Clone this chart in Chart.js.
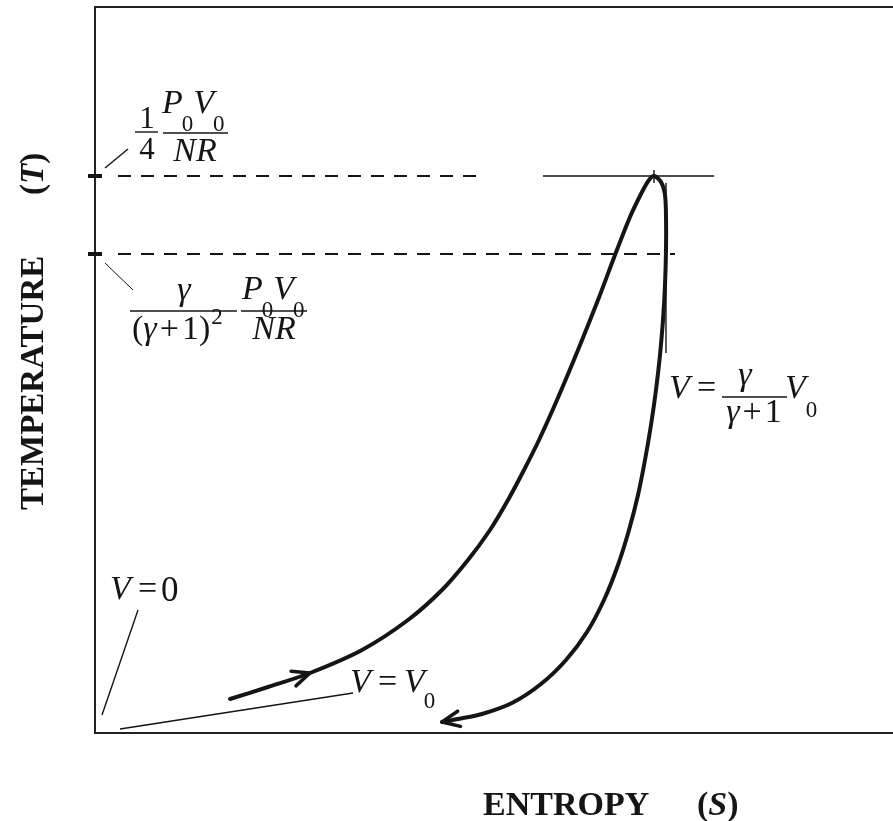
<!DOCTYPE html>
<html>
<head>
<meta charset="utf-8">
<script src="https://cdn.jsdelivr.net/npm/chart.js@4.4.1/dist/chart.umd.min.js"></script>
<style>
  html, body { margin: 0; padding: 0; background: #fff; overflow: hidden; }
  #wrap { position: relative; width: 893px; height: 821px; }
</style>
</head>
<body>
<div id="wrap"><canvas id="ts"></canvas></div>
<script>
// T-S diagram, arbitrary units (S along x, T along y)
const heatS = [1.35, 1.73, 2.15, 2.67, 3.13, 3.47, 3.73, 3.95, 4.13, 4.29, 4.44, 4.62, 4.83, 5.03, 5.20, 5.35, 5.47, 5.54, 5.59];
const heatT = [0.34, 0.46, 0.60, 0.83, 1.13, 1.43, 1.73, 2.03, 2.33, 2.63, 2.93, 3.33, 3.83, 4.33, 4.78, 5.16, 5.41, 5.53, 5.57];
const coolS = [5.66, 5.70, 5.71, 5.71, 5.70, 5.68, 5.65, 5.61, 5.56, 5.50, 5.43, 5.34, 5.23, 5.09, 4.92, 4.71, 4.46, 4.17, 3.87, 3.63, 3.47];
const coolT = [5.51, 5.38, 5.16, 4.83, 4.48, 4.13, 3.78, 3.43, 3.08, 2.73, 2.38, 2.03, 1.68, 1.33, 1.01, 0.73, 0.49, 0.30, 0.19, 0.14, 0.11];

// isochores V = V0 and V = 0
const isoV0S = [0.25, 2.58];
const isoV0T = [0.04, 0.40];
const isoZeroS = [0.07, 0.43];
const isoZeroT = [0.18, 1.23];

// reference levels
const tMax = 5.57;      // (1/4) P0V0/NR
const tCross = 4.79;    // γ/(γ+1)^2 P0V0/NR
const dashTopS = [0.23, 3.85];
const dashLowS = [0.23, 5.80];
const peakLineS = [4.48, 6.19];
const sPeak = 5.59;
const sTangent = 5.71;  // V = γ/(γ+1) V0
const tangentT = [5.50, 3.80];
const axisTickS = [-0.07, 0.07];

// leaders from labels
const lead1S = [0.10, 0.33], lead1T = [5.65, 5.84];
const lead2S = [0.10, 0.38], lead2T = [4.70, 4.43];

// arrow tips: [S, T, S from, T from]
const arrows = [[2.15, 0.60, 1.73, 0.46], [3.47, 0.11, 3.63, 0.14]];

const xy = (s, t) => s.map((v, i) => ({ x: v, y: Array.isArray(t) ? t[i] : t }));
const INK = '#151515';

function line(data, width, extra = {}) {
  return Object.assign({ data, showLine: true, borderColor: INK, borderWidth: width,
    pointRadius: 0, tension: 0, fill: false }, extra);
}

const datasets = [
  line(xy(heatS.concat(coolS), heatT.concat(coolT)), 4, { tension: 0.3, borderCapStyle: 'round' }),
  line(xy(isoV0S, isoV0T), 1.6),
  line(xy(isoZeroS, isoZeroT), 1.4),
  line(xy(peakLineS, tMax), 1.6),
  line(xy(dashTopS, tMax), 2, { borderDash: [13, 10] }),
  line(xy(dashLowS, tCross), 2, { borderDash: [13, 10] }),
  line(xy([sTangent, sTangent], tangentT), 1.4),
  line(xy([sPeak, sPeak], [5.63, 5.50]), 1.4),
  line(xy(axisTickS, tMax), 4, { clip: false }),
  line(xy(axisTickS, tCross), 4, { clip: false }),
  line(xy(lead1S, lead1T), 1.4, { clip: false }),
  line(xy(lead2S, lead2T), 1, { clip: false }),
];

const SERIF = '"Liberation Serif", "Times New Roman", serif';
const M = 34, SUB = 23;

function font(it, sz, bold) {
  return `${it ? 'italic ' : ''}${bold ? 'bold ' : ''}${sz}px ${SERIF}`;
}
// parts: [text, italic, size, dy]; a number is a gap in px
function runWidth(ctx, parts) {
  let w = 0;
  for (const p of parts) {
    if (typeof p === 'number') { w += p; continue; }
    ctx.font = font(p[1], p[2]); w += ctx.measureText(p[0]).width;
  }
  return w;
}
function run(ctx, x, y, parts) {
  for (const p of parts) {
    if (typeof p === 'number') { x += p; continue; }
    const [t, it, sz, dy] = p;
    ctx.font = font(it, sz);
    ctx.fillText(t, x, y + (dy || 0));
    x += ctx.measureText(t).width;
  }
}
function runC(ctx, cx, y, parts) {
  run(ctx, cx - runWidth(ctx, parts) / 2, y, parts);
}
function bar(ctx, x1, x2, y) {
  ctx.beginPath(); ctx.moveTo(x1, y); ctx.lineTo(x2, y); ctx.stroke();
}

const frame = {
  id: 'frame',
  beforeDatasetsDraw(chart) {
    const { ctx, chartArea: a } = chart;
    ctx.save();
    ctx.strokeStyle = '#222';
    ctx.lineWidth = 2;
    ctx.beginPath();
    ctx.moveTo(a.right + 2, a.top); ctx.lineTo(a.left, a.top);
    ctx.lineTo(a.left, a.bottom); ctx.lineTo(a.right + 2, a.bottom);
    ctx.stroke();
    ctx.restore();
  }
};

const annotate = {
  id: 'annotate',
  afterDatasetsDraw(chart) {
    const { ctx, scales: { x, y } } = chart;
    ctx.save();
    ctx.fillStyle = INK;
    ctx.strokeStyle = INK;

    // arrowheads
    ctx.lineWidth = 3.5;
    ctx.lineCap = 'round';
    for (const [s, t, s0, t0] of arrows) {
      const px = x.getPixelForValue(s), py = y.getPixelForValue(t);
      const ang = Math.atan2(py - y.getPixelForValue(t0), px - x.getPixelForValue(s0));
      ctx.beginPath();
      for (const d of [-0.42, 0.42]) {
        ctx.moveTo(px, py);
        ctx.lineTo(px - 19 * Math.cos(ang + d), py - 19 * Math.sin(ang + d));
      }
      ctx.stroke();
    }

    ctx.lineWidth = 1.4;
    ctx.lineCap = 'butt';
    ctx.textBaseline = 'alphabetic';

    // 1/4 P0V0/NR
    runC(ctx, 147, 128, [['1', false, 31]]);
    bar(ctx, 135, 158, 132);
    runC(ctx, 147, 159, [['4', false, 31]]);
    run(ctx, 162, 113, [['P', true, M], -1, ['0', false, SUB, 18], ['V', true, M], -1, ['0', false, SUB, 18]]);
    bar(ctx, 163, 228, 133);
    runC(ctx, 195, 161, [['NR', true, M]]);

    // γ/(γ+1)^2 P0V0/NR
    runC(ctx, 184, 300, [['γ', true, M]]);
    bar(ctx, 130, 237, 311);
    run(ctx, 132, 339, [['(', false, M], ['γ', true, M], 3, ['+', false, M], 3, ['1', false, M], [')', false, M], 1, ['2', false, SUB, -15]]);
    run(ctx, 242, 299, [['P', true, M], -1, ['0', false, SUB, 18], ['V', true, M], -1, ['0', false, SUB, 18]]);
    bar(ctx, 241, 307, 311);
    runC(ctx, 274, 339, [['NR', true, M]]);

    // V = γ/(γ+1) V0
    run(ctx, 669, 398, [['V', true, M]]);
    run(ctx, 697, 398, [['=', false, M]]);
    runC(ctx, 745, 385, [['γ', true, M]]);
    bar(ctx, 722, 787, 397);
    runC(ctx, 754, 422, [['γ', true, M], 3, ['+', false, M], 3, ['1', false, M]]);
    run(ctx, 785, 398, [['V', true, M], ['0', false, SUB, 19]]);

    // V = 0
    run(ctx, 110, 599, [['V', true, M]]);
    run(ctx, 138, 599, [['=', false, M]]);
    run(ctx, 161, 601, [['0', false, 35]]);

    // V = V0
    run(ctx, 350, 692, [['V', true, M]]);
    run(ctx, 378, 692, [['=', false, M]]);
    run(ctx, 404, 692, [['V', true, M], -1, ['0', false, SUB, 16]]);

    // axis titles
    ctx.font = font(false, 34, true);
    ctx.fillText('ENTROPY', 483, 815);
    let cx = 697;
    for (const [t, it] of [['(', false], ['S', true], [')', false]]) {
      ctx.font = font(it, 34, true);
      ctx.fillText(t, cx, 815);
      cx += ctx.measureText(t).width;
    }
    ctx.save();
    ctx.translate(43, 510);
    ctx.rotate(-Math.PI / 2);
    ctx.font = font(false, 33, true);
    ctx.fillText('TEMPERATURE', 0, 0);
    let cy = 315;
    for (const [t, it] of [['(', false], ['T', true], [')', false]]) {
      ctx.font = font(it, 33, true);
      ctx.fillText(t, cy, 0);
      cy += ctx.measureText(t).width;
    }
    ctx.restore();

    ctx.restore();
  }
};

new Chart(document.getElementById('ts'), {
  type: 'scatter',
  data: { datasets },
  options: {
    responsive: true,
    maintainAspectRatio: false,
    animation: false,
    layout: { padding: { left: 95, top: 7, right: 0, bottom: 88 } },
    plugins: { legend: { display: false }, tooltip: { enabled: false } },
    scales: {
      x: { type: 'linear', min: 0, max: 7.98, display: false },
      y: { type: 'linear', min: 0, max: 7.26, display: false }
    }
  },
  plugins: [frame, annotate]
});
</script>
</body>
</html>
